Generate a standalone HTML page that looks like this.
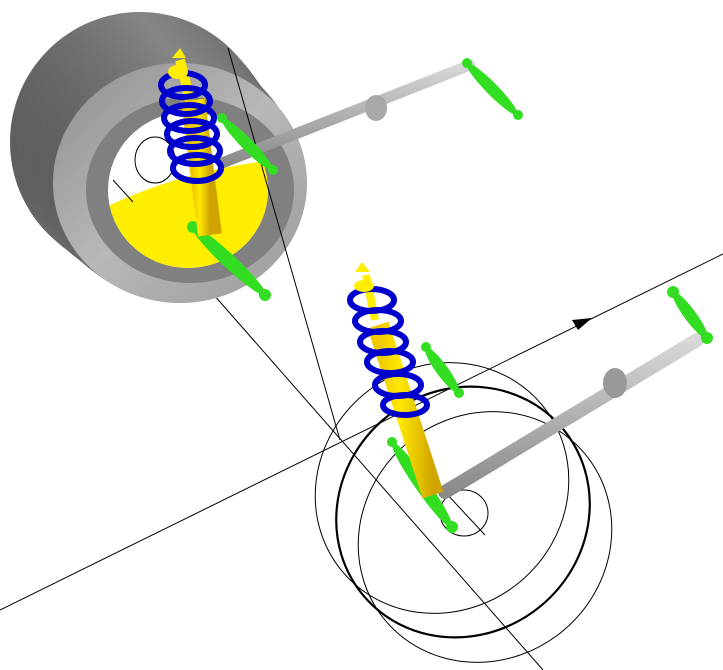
<!DOCTYPE html>
<html><head><meta charset="utf-8"><style>html,body{margin:0;padding:0;background:#fff;overflow:hidden}svg{display:block}</style></head>
<body>
<svg width="723" height="670" viewBox="0 0 723 670" xmlns="http://www.w3.org/2000/svg">
<defs>
<linearGradient id="face" x1="0" y1="0" x2="1" y2="1">
<stop offset="0" stop-color="#8e8e8e"/><stop offset="0.5" stop-color="#b8b8b8"/><stop offset="1" stop-color="#9a9a9a"/></linearGradient>
<linearGradient id="side" x1="0" y1="0" x2="1" y2="0">
<stop offset="0" stop-color="#5e5e5e"/><stop offset="0.5" stop-color="#858585"/><stop offset="1" stop-color="#6a6a6a"/></linearGradient>
<linearGradient id="rod" x1="0" y1="0" x2="0" y2="1">
<stop offset="0" stop-color="#d8d8d8"/><stop offset="1" stop-color="#8a8a8a"/></linearGradient>
<linearGradient id="yel" x1="0" y1="0" x2="1" y2="0">
<stop offset="0" stop-color="#f0c800"/><stop offset="0.4" stop-color="#ffe800"/><stop offset="1" stop-color="#d0a400"/></linearGradient>
<clipPath id="hole"><ellipse cx="188" cy="190" rx="80" ry="78"/></clipPath>
</defs>

<g stroke="#000" stroke-width="1" fill="none">
<line x1="0" y1="610" x2="723" y2="254"/>
<line x1="113" y1="180" x2="543" y2="670"/>
</g>

<g fill="url(#side)">
<ellipse cx="140" cy="142" rx="130" ry="130"/>
<ellipse cx="145" cy="147" rx="130" ry="129"/>
<ellipse cx="150" cy="152" rx="129" ry="128"/>
<ellipse cx="155" cy="158" rx="129" ry="126"/>
<ellipse cx="160" cy="163" rx="128" ry="125"/>
<ellipse cx="165" cy="168" rx="128" ry="124"/>
<ellipse cx="170" cy="173" rx="128" ry="123"/>
<ellipse cx="175" cy="178" rx="127" ry="122"/>
</g>
<ellipse cx="180" cy="183" rx="127" ry="120" fill="url(#face)"/>
<ellipse cx="190" cy="190" rx="104" ry="93" fill="#808080"/>
<ellipse cx="188" cy="190" rx="80" ry="78" fill="#fff"/>
<g clip-path="url(#hole)">
<path d="M100 210 Q180 170 275 160 L275 290 L100 290 Z" fill="#ffee00"/>
</g>
<ellipse cx="155" cy="160" rx="20" ry="23" fill="none" stroke="#000" stroke-width="1"/>
<line x1="113" y1="180" x2="133" y2="202" stroke="#000"/>
<line x1="228" y1="48" x2="340" y2="440" stroke="#000"/>

<line x1="222" y1="163" x2="470" y2="65" stroke="url(#rod)" stroke-width="11" stroke-linecap="round"/>
<ellipse cx="376" cy="108" rx="11" ry="13" fill="#a8a8a8"/>
<g fill="#33dd22">
<ellipse cx="492" cy="89" rx="36" ry="6" transform="rotate(45.5 492 89)"/>
<circle cx="467" cy="63" r="5"/><circle cx="518" cy="115" r="5"/>
<ellipse cx="247" cy="144" rx="36" ry="6" transform="rotate(45.5 247 144)"/>
<circle cx="222" cy="118" r="5"/><circle cx="273" cy="170" r="5"/>
<ellipse cx="229" cy="261" rx="50" ry="7" transform="rotate(43 229 261)"/>
<circle cx="193" cy="227" r="6"/><circle cx="265" cy="295" r="6"/>
</g>
<line x1="180" y1="60" x2="190" y2="100" stroke="#ffee00" stroke-width="10"/>
<line x1="193" y1="100" x2="210" y2="235" stroke="url(#yel)" stroke-width="24"/>
<g fill="none" stroke="#0000cc" stroke-width="6">
<ellipse cx="183" cy="85" rx="22" ry="12"/>
<ellipse cx="186" cy="101" rx="24" ry="13"/>
<ellipse cx="189" cy="118" rx="25" ry="13"/>
<ellipse cx="192" cy="134" rx="25" ry="13"/>
<ellipse cx="195" cy="151" rx="25" ry="13"/>
<ellipse cx="197" cy="168" rx="24" ry="13"/>
</g>
<ellipse cx="178" cy="72" rx="10" ry="7" fill="#ffee00"/>
<path d="M172 58 L180 48 L186 58 Z" fill="#ffee00"/>

<g fill="none" stroke="#000">
<ellipse cx="442" cy="488" rx="130" ry="122" transform="rotate(-40 442 488)" stroke-width="1"/>
<ellipse cx="463" cy="512" rx="130" ry="122" transform="rotate(-40 463 512)" stroke-width="2.2"/>
<ellipse cx="485" cy="537" rx="130" ry="122" transform="rotate(-40 485 537)" stroke-width="1"/>
<ellipse cx="464" cy="513" rx="24" ry="23"/>
<line x1="445" y1="492" x2="485" y2="535"/>
</g>

<line x1="445" y1="492" x2="697" y2="340" stroke="url(#rod)" stroke-width="14" stroke-linecap="round"/>
<ellipse cx="615" cy="383" rx="12" ry="15" fill="#999"/>
<g fill="#33dd22">
<ellipse cx="690" cy="315" rx="29" ry="6" transform="rotate(53.5 690 315)"/>
<circle cx="673" cy="292" r="6"/><circle cx="707" cy="338" r="6"/>
<ellipse cx="442" cy="370" rx="28" ry="6" transform="rotate(54 442 370)"/>
<circle cx="426" cy="347" r="5"/><circle cx="459" cy="393" r="5"/>
<ellipse cx="422" cy="485" rx="52" ry="7" transform="rotate(55 422 485)"/>
<circle cx="392" cy="442" r="5"/><circle cx="452" cy="527" r="6"/>
</g>
<line x1="366" y1="275" x2="375" y2="320" stroke="#ffee00" stroke-width="8"/>
<line x1="378" y1="325" x2="433" y2="495" stroke="url(#yel)" stroke-width="22"/>
<g fill="none" stroke="#0000cc" stroke-width="6">
<ellipse cx="372" cy="300" rx="22" ry="11"/>
<ellipse cx="378" cy="321" rx="23" ry="11"/>
<ellipse cx="383" cy="342" rx="23" ry="11"/>
<ellipse cx="390" cy="362" rx="23" ry="11"/>
<ellipse cx="398" cy="385" rx="23" ry="11"/>
<ellipse cx="405" cy="405" rx="22" ry="10"/>
</g>
<ellipse cx="364" cy="286" rx="10" ry="6" fill="#ffee00"/>
<path d="M355 272 L362 262 L370 272 Z" fill="#ffee00"/>

<path d="M572 320 L592 318 L578 330 Z" fill="#000"/>
</svg>
</body></html>
